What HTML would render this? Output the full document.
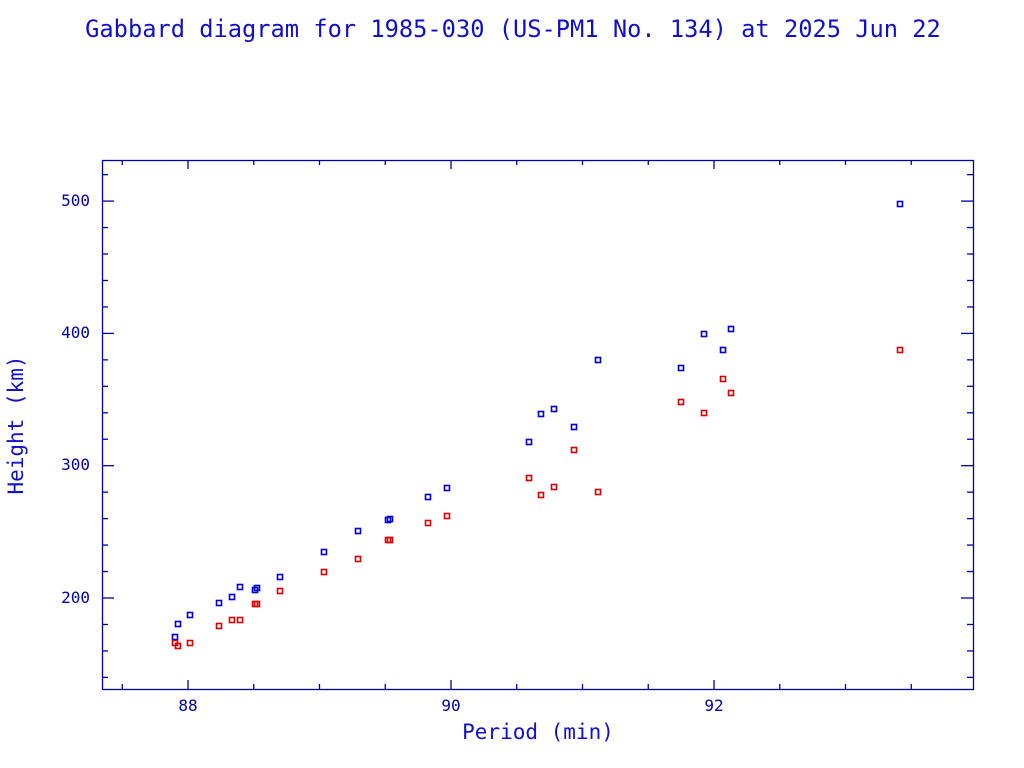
<!DOCTYPE html>
<html><head><style>body{margin:0;background:#fff}svg{display:block}</style></head><body>
<svg width="1024" height="768" xmlns="http://www.w3.org/2000/svg" font-family="'DejaVu Sans Mono','Liberation Mono',monospace" fill="#0000cc">
<text x="513" y="37" text-anchor="middle" font-size="23.7" fill="#1010cc">Gabbard diagram for 1985-030 (US-PM1 No. 134) at 2025 Jun 22</text>
<rect x="102.5" y="160.5" width="871" height="529" fill="none" stroke="#0000aa" stroke-width="1.3"/>
<g id="t" stroke="#0000aa" stroke-width="1.3"></g>
<g font-size="16" fill="#0000aa">
<text x="188" y="711" text-anchor="middle">88</text>
<text x="451" y="711" text-anchor="middle">90</text>
<text x="714" y="711" text-anchor="middle">92</text>
<text x="90" y="206" text-anchor="end">500</text>
<text x="90" y="338" text-anchor="end">400</text>
<text x="90" y="470" text-anchor="end">300</text>
<text x="90" y="603" text-anchor="end">200</text>
</g>
<text x="538" y="739" text-anchor="middle" font-size="21" fill="#1010cc">Period (min)</text>
<text transform="translate(23,425) rotate(-90)" text-anchor="middle" font-size="21" fill="#1010cc">Height (km)</text>
<g id="p" fill="none" stroke-width="1.6"></g>
</svg>
<script>
var ns="http://www.w3.org/2000/svg",t=document.getElementById('t'),p=document.getElementById('p');
function L(a,b,c,d){var l=document.createElementNS(ns,'line');l.setAttribute('x1',a);l.setAttribute('y1',b);l.setAttribute('x2',c);l.setAttribute('y2',d);t.appendChild(l);}
for(var v=87.5;v<=94;v+=0.5){var x=188+(v-88)*131.5;if(x<103||x>972)continue;var maj=(v%2==0),len=maj?9:5;L(x,689,x,689-len);L(x,160,x,160+len);}
for(var h=140;h<=520;h+=20){var y=598-(h-200)*1.323;if(y<161||y>688)continue;var maj=(h%100==0),len=maj?12:6;L(102,y,102+len,y);L(973,y,973-len,y);}
var d=[[175,637,643],[178,624,646],[190,615,643],[219,603,626],[232,597,620],[240,587,620],[255,590,604],[257,588,604],[280,577,591],[324,552,572],[358,531,559],[388,520,540],[390,519,540],[428,497,523],[447,488,516],[529,442,478],[541,414,495],[554,409,487],[574,427,450],[598,360,492],[681,368,402],[704,334,413],[723,350,379],[731,329,393],[900,204,350]];
function S(x,y,c){var r=document.createElementNS(ns,'rect');r.setAttribute('x',x-2.5);r.setAttribute('y',y-2.5);r.setAttribute('width',5);r.setAttribute('height',5);r.setAttribute('stroke',c);p.appendChild(r);}
d.forEach(function(e){S(e[0],e[1],'#0000dd');S(e[0],e[2],'#dd0000');});
</script>
</body></html>
